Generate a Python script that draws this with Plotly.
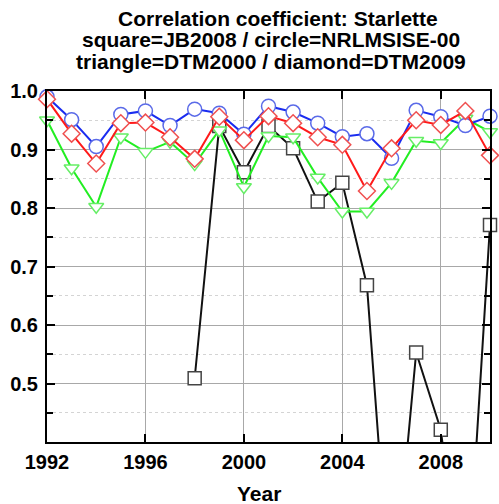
import plotly.graph_objects as go

years = list(range(1992, 2011))

nrlmsise = [0.990, 0.951, 0.905, 0.960, 0.966, 0.941, 0.969, 0.962, 0.926, 0.974,
            0.964, 0.945, 0.922, 0.927, 0.885, 0.967, 0.956, 0.941, 0.957]
dtm2009 = [0.986, 0.927, 0.876, 0.945, 0.946, 0.921, 0.884, 0.956, 0.916, 0.957,
           0.945, 0.921, 0.908, 0.829, 0.902, 0.950, 0.942, 0.966, 0.890]
dtm2000 = [0.950, 0.868, 0.802, 0.921, 0.896, 0.913, 0.875, 0.933, 0.836, 0.923,
           0.921, 0.852, 0.794, 0.794, 0.843, 0.915, 0.911, 0.953, 0.930]
jb2008 = [None, None, None, None, None, None, 0.509, 0.940, 0.861, 0.940,
          0.902, 0.811, 0.843, 0.668, 0.10, 0.553, 0.421, 0.09, 0.771]

title_lines = ["Correlation coefficient: Starlette",
               "square=JB2008 / circle=NRLMSISE-00",
               "triangle=DTM2000 / diamond=DTM2009"]
y_tickvals = [0.5, 0.6, 0.7, 0.8, 0.9, 1.0]
y_minor = [0.45, 0.55, 0.65, 0.75, 0.85, 0.95]
x_tickvals = [1992, 1996, 2000, 2004, 2008]

FONT = "Liberation Sans, Arial, Helvetica, sans-serif"

fig = go.Figure()

fig.add_trace(go.Scatter(
    x=years, y=jb2008, mode="lines+markers", name="JB2008",
    line=dict(color="#111111", width=2), cliponaxis=False,
    marker=dict(symbol="square", size=13, color="white",
                line=dict(color="#444444", width=1.5))))
fig.add_trace(go.Scatter(
    x=years, y=dtm2000, mode="lines+markers", name="DTM2000",
    line=dict(color="#22ee22", width=2), cliponaxis=False,
    marker=dict(symbol="triangle-down", size=13, color="white",
                line=dict(color="#66ee66", width=1.5))))
fig.add_trace(go.Scatter(
    x=years, y=nrlmsise, mode="lines+markers", name="NRLMSISE-00",
    line=dict(color="#1a2cf0", width=2), cliponaxis=False,
    marker=dict(symbol="circle", size=14, color="white",
                line=dict(color="#5a6ae8", width=1.5))))
fig.add_trace(go.Scatter(
    x=years, y=dtm2009, mode="lines+markers", name="DTM2009",
    line=dict(color="#ff1a1a", width=2), cliponaxis=False,
    marker=dict(symbol="diamond", size=13, color="white",
                line=dict(color="#f05050", width=1.5))))

fig.update_layout(
    width=499, height=504,
    margin=dict(l=47, r=7, t=91, b=62),
    paper_bgcolor="white", plot_bgcolor="white",
    showlegend=False,
    font=dict(family=FONT, color="black"),
)

fig.update_xaxes(
    range=[1992, 2010], tickvals=x_tickvals, ticktext=[str(v) for v in x_tickvals],
    ticks="inside", ticklen=8, tickwidth=2, tickcolor="black",
    showline=True, linecolor="black", linewidth=2, mirror="allticks",
    showgrid=True, gridcolor="#a8a8a8", gridwidth=1, zeroline=False,
    tickfont=dict(family=FONT, size=20, weight="bold"),
    ticklabelstandoff=1,
)
fig.update_yaxes(
    range=[0.4, 1.0], tickvals=y_tickvals, ticktext=["%.1f" % v for v in y_tickvals],
    ticks="inside", ticklen=8, tickwidth=2, tickcolor="black",
    showline=True, linecolor="black", linewidth=2, mirror="allticks",
    showgrid=True, gridcolor="#a8a8a8", gridwidth=1, zeroline=False,
    tickfont=dict(family=FONT, size=20, weight="bold"),
    ticklabelstandoff=3,
    minor=dict(tickvals=y_minor, ticks="inside", ticklen=6, tickwidth=2,
               tickcolor="black", showgrid=True, gridcolor="#d4d4d4",
               gridwidth=1, griddash="dot"),
)

# Title lines (pixel positions converted to paper coords)
plot_top, plot_bot, plot_l, plot_r = 91, 442, 47, 492
def py(pix):
    return (plot_bot - pix) / (plot_bot - plot_top)
def px(pix):
    return (pix - plot_l) / (plot_r - plot_l)

for txt, yc, xc in zip(title_lines, [18, 39.5, 61], [279, 272, 272]):
    fig.add_annotation(text="<b>%s</b>" % txt, xref="paper", yref="paper",
                       x=px(xc), y=py(yc), xanchor="center", yanchor="middle",
                       showarrow=False, font=dict(family=FONT, size=21, color="black"))

fig.add_annotation(text="<b>Year</b>", xref="paper", yref="paper",
                   x=px(260), y=py(493), xanchor="center", yanchor="middle",
                   showarrow=False, font=dict(family=FONT, size=21, color="black"))

fig.write_html("out.html")
